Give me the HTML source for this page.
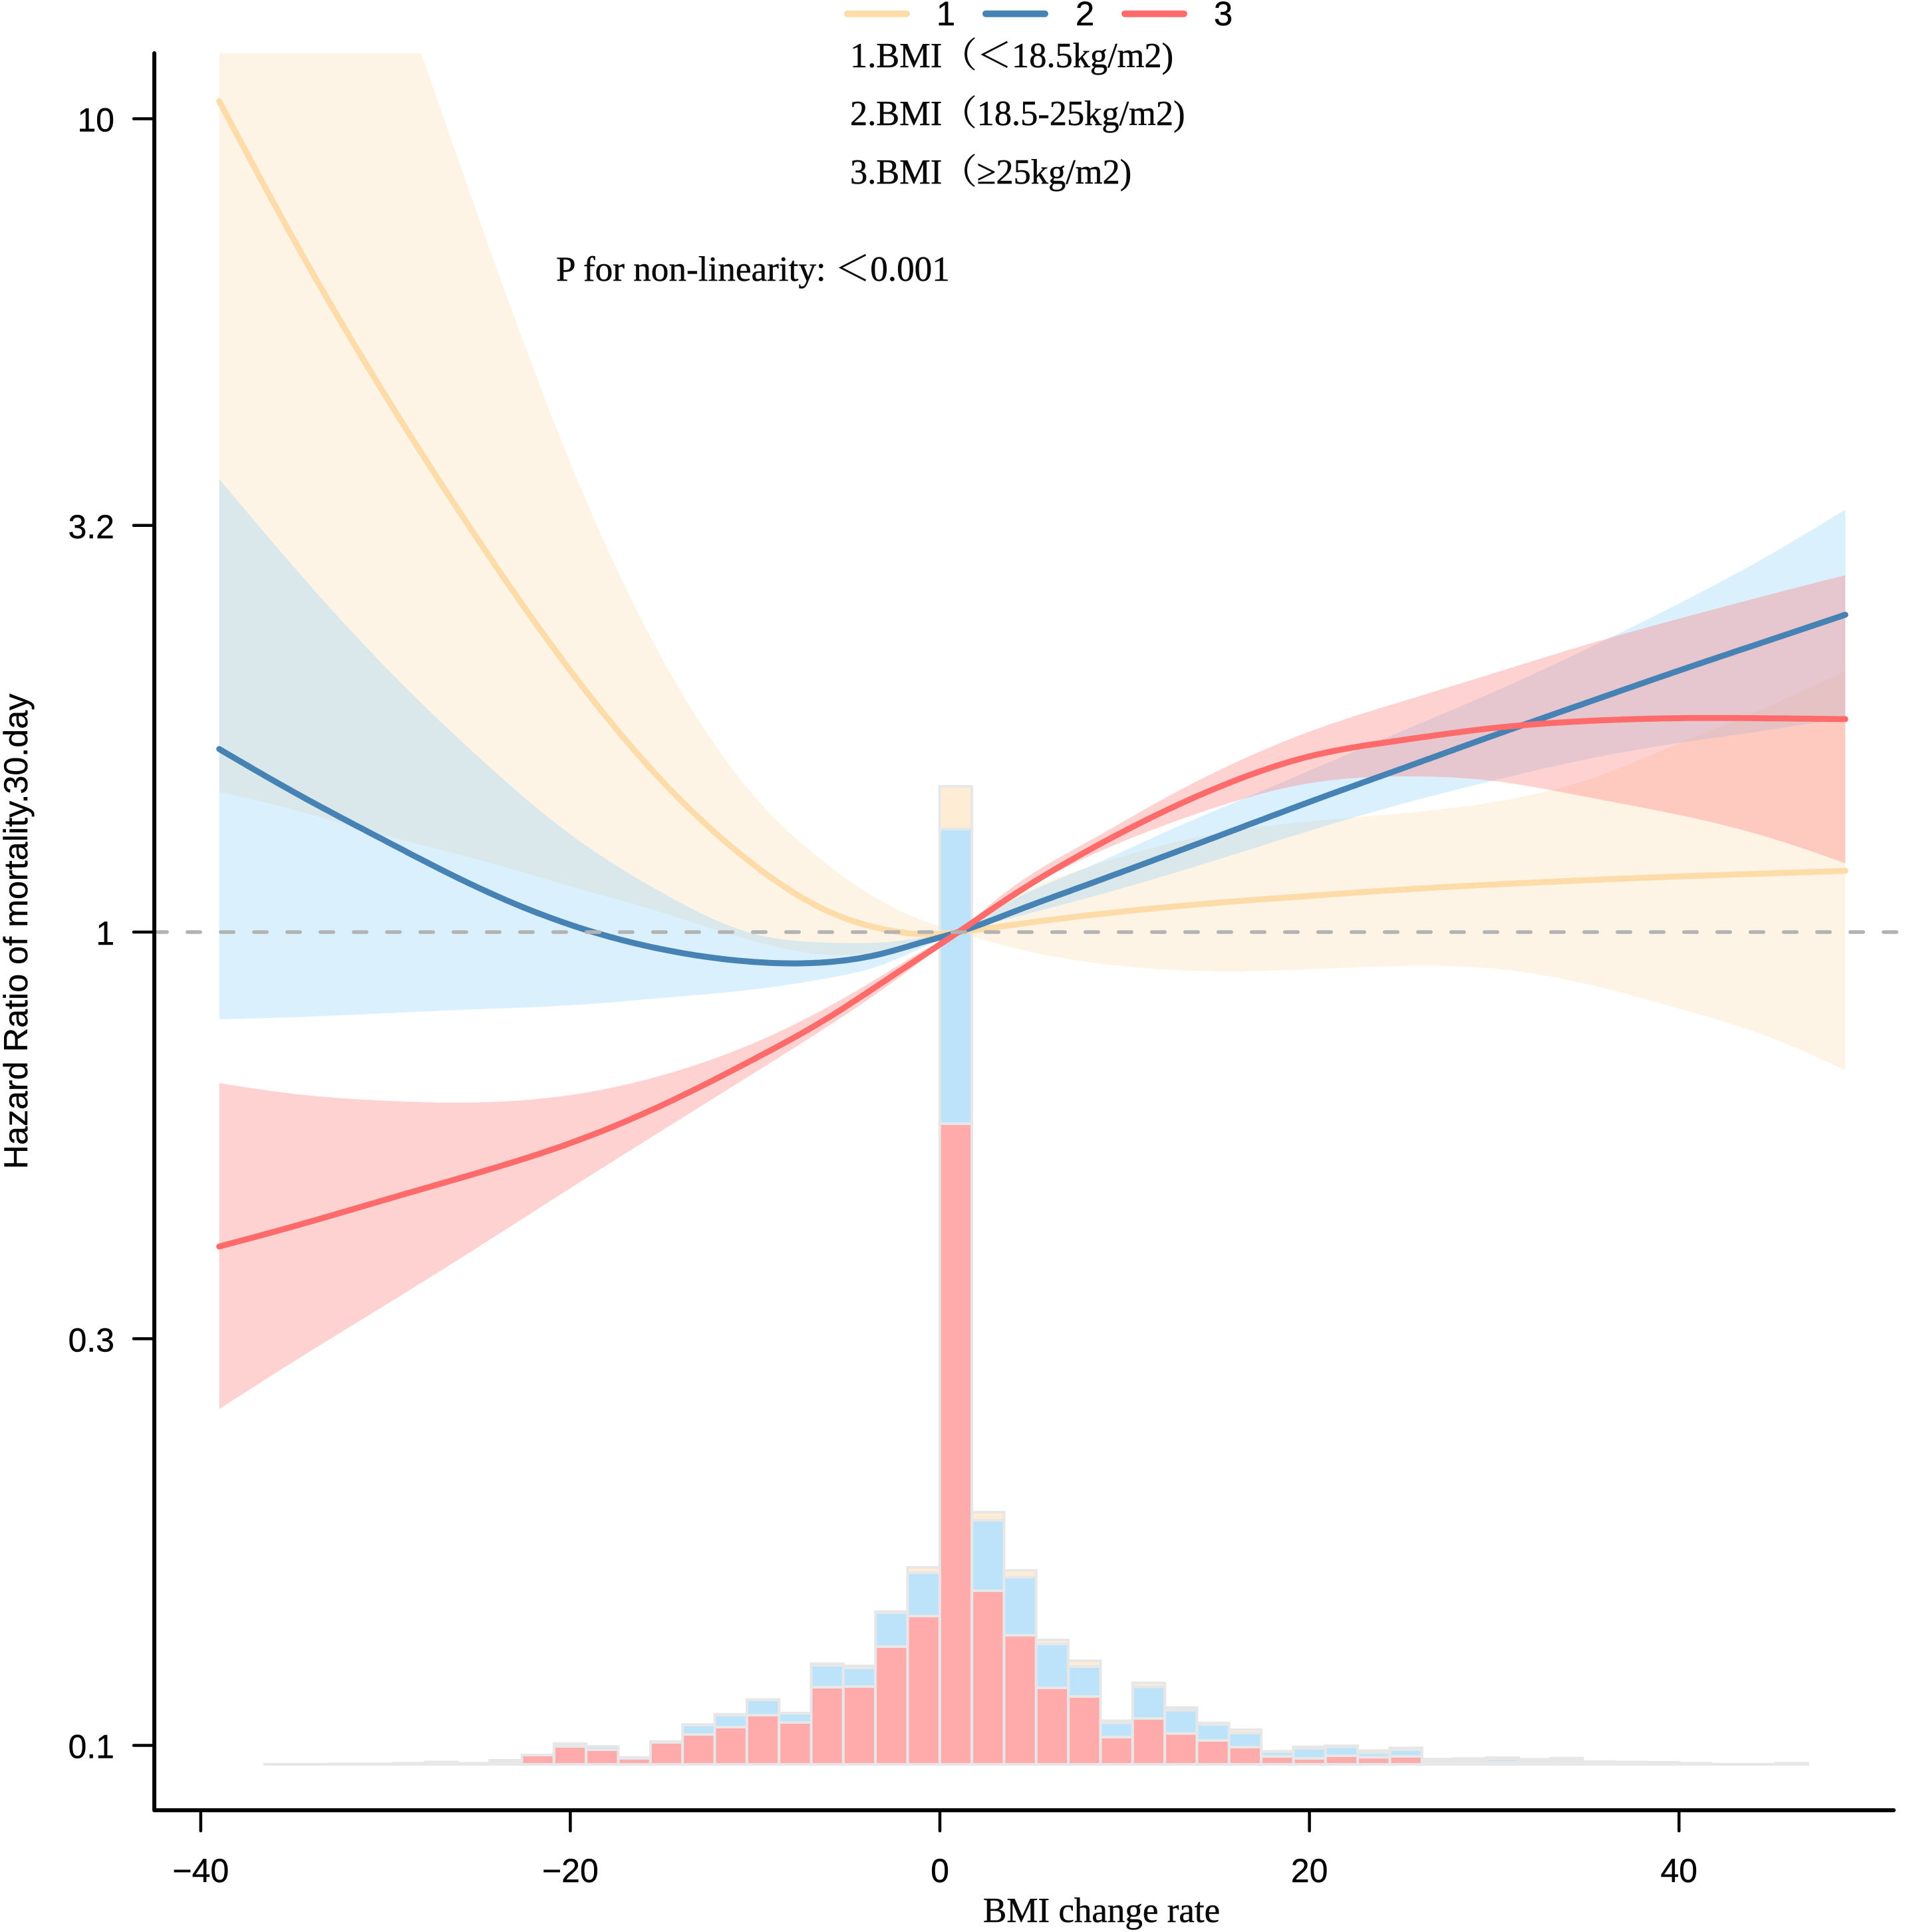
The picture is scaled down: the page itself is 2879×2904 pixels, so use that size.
<!DOCTYPE html>
<html lang="en">
<head>
<meta charset="utf-8">
<title>Hazard ratio of 30-day mortality by BMI change rate</title>
<style>
  html,body{margin:0;padding:0;background:#fff;}
  svg{display:block;}
  .sans{font-family:"Liberation Sans",Arial,sans-serif;fill:#000;stroke:#000;stroke-width:.4;}
  .serif{font-family:"Liberation Serif","Noto Serif CJK SC",serif;fill:#0a0a0a;stroke:#0a0a0a;stroke-width:.5;}
</style>
</head>
<body>
<svg id="chart" xmlns="http://www.w3.org/2000/svg" width="2879" height="2904" viewBox="0 0 2879 2904">
  <defs>
    <clipPath id="panel-clip"><rect x="300" y="80" width="2560" height="2640"></rect></clipPath>
  </defs>
  <rect x="0" y="0" width="2879" height="2904" fill="#ffffff"></rect>
  <g id="ribbons" clip-path="url(#panel-clip)"></g>
  <g id="bars"></g>
  <g id="lines"></g>
  <line id="refline" stroke="#b3b3b3" stroke-width="5.5" stroke-linecap="round" stroke-dasharray="19.5 30.5"></line>
  <g id="axes"></g>

  <text class="sans" font-size="50.3" text-anchor="middle" transform="translate(41 1400) rotate(-90)">Hazard Ratio of mortality.30.day</text>
  <text class="serif" font-size="53" x="1478" y="2889">BMI change rate</text>

  <g>
    <line x1="1274" y1="20.7" x2="1363" y2="20.7" stroke="#FDDCA9" stroke-width="10" stroke-linecap="round"></line>
    <text class="sans" font-size="51" x="1422" y="38" text-anchor="middle">1</text>
    <line x1="1482" y1="20.7" x2="1571" y2="20.7" stroke="#4682B4" stroke-width="10" stroke-linecap="round"></line>
    <text class="sans" font-size="51" x="1631" y="38" text-anchor="middle">2</text>
    <line x1="1691" y1="20.7" x2="1780" y2="20.7" stroke="#FF6B6B" stroke-width="10" stroke-linecap="round"></line>
    <text class="sans" font-size="51" x="1839" y="38" text-anchor="middle">3</text>
  </g>

  <text class="serif" font-size="52.4" x="1278" y="101">1.BMI（＜18.5kg/m2)</text>
  <text class="serif" font-size="52.4" x="1278" y="188">2.BMI（18.5-25kg/m2)</text>
  <text class="serif" font-size="52.4" x="1278" y="276">3.BMI（≥25kg/m2)</text>
  <text class="serif" font-size="53.2" x="836" y="422">P for non-linearity: ＜0.001</text>
</svg>

<script>
// ---- Data ----
const xValues = [-39,-35,-30,-25,-20,-15,-10,-6,-3,-1,1,4,8,12,16,20,25,30,35,40,45,49];

// log10(hazard ratio) per group
const line1 = [1.0217,0.8528,0.6593,0.4826,0.3215,0.1850,0.0815,0.0250,0.0033,-0.0025,0,0.0090,0.0205,0.0300,0.0378,0.0445,0.0522,0.0585,0.0638,0.0684,0.0722,0.0753];
const upper1 = [1.8195,1.5435,1.2085,0.8810,0.5770,0.3350,0.1660,0.0815,0.0360,0.0150,0,0.0434,0.0795,0.1065,0.1250,0.1360,0.1460,0.1600,0.1870,0.2320,0.2790,0.3215];
const lower1 = [0.1726,0.1505,0.1186,0.0892,0.0564,0.0237,-0.0115,-0.0280,-0.0225,-0.0110,0,-0.0196,-0.0368,-0.0458,-0.0483,-0.0458,-0.0417,-0.0450,-0.0638,-0.0941,-0.1301,-0.1701];

const line2 = [0.2250,0.1726,0.1121,0.0548,0.0090,-0.0213,-0.0368,-0.0368,-0.0258,-0.0128,0,0.0250,0.0585,0.0920,0.1260,0.1600,0.2010,0.2420,0.2820,0.3215,0.3597,0.3902];
const upper2 = [0.5571,0.4499,0.3256,0.2160,0.1202,0.0480,-0.0025,-0.0130,-0.0125,-0.0070,0,0.0401,0.0800,0.1210,0.1600,0.1985,0.2470,0.2955,0.3480,0.4040,0.4650,0.5194];
const lower2 = [-0.1072,-0.1047,-0.0998,-0.0949,-0.0900,-0.0810,-0.0703,-0.0564,-0.0393,-0.0196,0,0.0180,0.0420,0.0680,0.0960,0.1245,0.1575,0.1865,0.2125,0.2325,0.2490,0.2634];

const line3 = [-0.3866,-0.3620,-0.3290,-0.2960,-0.2595,-0.2125,-0.1555,-0.1047,-0.0603,-0.0303,0,0.0460,0.1000,0.1470,0.1865,0.2160,0.2360,0.2510,0.2595,0.2630,0.2628,0.2618];
const upper3 = [-0.1857,-0.1988,-0.2074,-0.2094,-0.2004,-0.1759,-0.1358,-0.0913,-0.0515,-0.0241,0,0.0565,0.1110,0.1625,0.2085,0.2465,0.2835,0.3185,0.3534,0.3853,0.4155,0.4389];
const lower3 = [-0.5865,-0.5285,-0.4585,-0.3875,-0.3150,-0.2435,-0.1725,-0.1150,-0.0690,-0.0355,0,0.0440,0.0925,0.1300,0.1610,0.1830,0.1914,0.1857,0.1661,0.1440,0.1153,0.0846];

// Stacked histogram bin counts (relative units)
const histRed = [0.3,0.3,0.7,0.7,1.6,3.4,1.6,3,14,27,22,9,33,45,56,74,63,116,117,177,223,963,261,194,115,102,41,69,46.5,36,26,12,9,13,10.6,12,2,3,3,2,3,1.5,1.4,1,0.8,0.3,0.3,0.8];
const histBlue = [0,0,0,0,0,0,0,3,0,4,5,1.3,1.4,14,18,23,14,33,28,51,65,443,106,87.5,66,45,21.5,47.6,35,24,21,7,15,13.5,7,10,4,3,5,4,3,1.5,1,1,0.4,0,0,0.4];
const histYellow = [0,0,0,0,0,0,0,0,0,0,0,0,0,1,1.3,0.5,0,2,3,1.5,8,64,12,10,6,8.6,3,5.8,4,2.2,5,0.6,2.3,1.4,3.1,2.7,1.9,2.8,2,1.5,3.3,0.9,1,1,0.4,0,0,0.4];

const xTickValues = [-40,-20,0,20,40];
const xTickLabels = ["\u221240","\u221220","0","20","40"];
const yTickValues = [1,0.5,0,-0.5,-1];
const yTickLabels = ["10","3.2","1","0.3","0.1"];

const histBinStart = -36.54;
const histBinWidth = 1.7397;
const pinchX = 1;

// ---- Axis functions ----
const SVGNS = "http://www.w3.org/2000/svg";
function xScale(v){ return 1413 + 27.78 * v; }
function yScale(v){ return 1401 - 1222.5 * v; }
function histY(c){ return 2652 - c; }

// Natural cubic spline second derivatives
function splineD2(xs, ys){
  const n = xs.length;
  const d2 = new Array(n).fill(0);
  const u = new Array(n).fill(0);
  for (let i = 1; i < n - 1; i++) {
    const sig = (xs[i] - xs[i - 1]) / (xs[i + 1] - xs[i - 1]);
    const p = sig * d2[i - 1] + 2;
    d2[i] = (sig - 1) / p;
    const d = (ys[i + 1] - ys[i]) / (xs[i + 1] - xs[i]) - (ys[i] - ys[i - 1]) / (xs[i] - xs[i - 1]);
    u[i] = (6 * d / (xs[i + 1] - xs[i - 1]) - sig * u[i - 1]) / p;
  }
  for (let k = n - 2; k >= 0; k--) d2[k] = d2[k] * d2[k + 1] + u[k];
  return d2;
}
function splinePoints(xs, ys){
  const d2 = splineD2(xs, ys);
  const out = [];
  for (let i = 0; i < xs.length - 1; i++) {
    const h = xs[i + 1] - xs[i];
    const steps = Math.max(4, Math.ceil(h * 4));
    for (let s = 0; s < steps; s++) {
      const b = s / steps, a = 1 - b;
      const v = a * ys[i] + b * ys[i + 1] + ((a * a * a - a) * d2[i] + (b * b * b - b) * d2[i + 1]) * h * h / 6;
      out.push(xScale(xs[i] + b * h).toFixed(1) + " " + yScale(v).toFixed(1));
    }
  }
  out.push(xScale(xs[xs.length - 1]).toFixed(1) + " " + yScale(ys[ys.length - 1]).toFixed(1));
  return out;
}
// Ribbons pinch to a point at the reference value, so each side is fitted separately
function ribbonEdge(ys){
  const p = xValues.indexOf(pinchX);
  const left = splinePoints(xValues.slice(0, p + 1), ys.slice(0, p + 1));
  const right = splinePoints(xValues.slice(p), ys.slice(p));
  return left.concat(right.slice(1));
}

// ---- Ribbons ----
const ribbonGroup = document.getElementById("ribbons");
function drawRibbon(up, low, color, name){
  const el = document.createElementNS(SVGNS, "path");
  
  
  const a = ribbonEdge(up), b = ribbonEdge(low).reverse();
  el.setAttribute("d", "M" + a.join("L") + "L" + b.join("L") + "Z");
  el.setAttribute("fill", color);
  el.setAttribute("fill-opacity", "0.3");
  ribbonGroup.appendChild(el);
}
drawRibbon(upper1, lower1, "#FDDCA9", "ribbon-group-1");
drawRibbon(upper2, lower2, "#87CEFA", "ribbon-group-2");
drawRibbon(upper3, lower3, "#FF6B6B", "ribbon-group-3");

// ---- Histogram ----
const barGroup = document.getElementById("bars");
function drawBar(k, from, to, color, name){
  if (to <= from) return;
  const el = document.createElementNS(SVGNS, "rect");
  
  
  const x0 = xScale(histBinStart + k * histBinWidth);
  const x1 = xScale(histBinStart + (k + 1) * histBinWidth);
  el.setAttribute("x", x0.toFixed(2));
  el.setAttribute("width", (x1 - x0).toFixed(2));
  el.setAttribute("y", histY(to).toFixed(2));
  el.setAttribute("height", (histY(from) - histY(to)).toFixed(2));
  el.setAttribute("fill", color);
  el.setAttribute("stroke", "#e7e7e7");
  el.setAttribute("stroke-width", "4");
  barGroup.appendChild(el);
}
for (let k = 0; k < histRed.length; k++) {
  const r = histRed[k], b = r + histBlue[k], y = b + histYellow[k];
  drawBar(k, b, y, "#FEEDD4", "bar-group-1");
  drawBar(k, r, b, "#BDE3FB", "bar-group-2");
  drawBar(k, 0, r, "#FFABAB", "bar-group-3");
}

// ---- Curves ----
const lineGroup = document.getElementById("lines");
function drawLine(ys, color, name){
  const el = document.createElementNS(SVGNS, "path");
  
  
  el.setAttribute("d", "M" + splinePoints(xValues, ys).join("L"));
  el.setAttribute("fill", "none");
  el.setAttribute("stroke", color);
  el.setAttribute("stroke-width", "9");
  el.setAttribute("stroke-linecap", "round");
  el.setAttribute("stroke-linejoin", "round");
  lineGroup.appendChild(el);
}
drawLine(line1, "#FDDCA9", "curve-group-1");
drawLine(line2, "#4682B4", "curve-group-2");
drawLine(line3, "#FF6B6B", "curve-group-3");

// ---- Reference line ----
const ref = document.getElementById("refline");
ref.setAttribute("x1", "231.7");
ref.setAttribute("x2", "2854");
ref.setAttribute("y1", yScale(0));
ref.setAttribute("y2", yScale(0));

// ---- Axes ----
const axisGroup = document.getElementById("axes");
function axisLine(x1, y1, x2, y2, w, name){
  const el = document.createElementNS(SVGNS, "line");
  
  
  el.setAttribute("x1", x1);
  el.setAttribute("y1", y1);
  el.setAttribute("x2", x2);
  el.setAttribute("y2", y2);
  el.setAttribute("stroke", "#000");
  el.setAttribute("stroke-width", w);
  el.setAttribute("stroke-linecap", "round");
  axisGroup.appendChild(el);
}
function axisText(x, y, anchor, str, name){
  const el = document.createElementNS(SVGNS, "text");
  
  
  el.setAttribute("class", "sans");
  el.setAttribute("x", x);
  el.setAttribute("y", y);
  el.setAttribute("font-size", "50");
  el.setAttribute("text-anchor", anchor);
  el.textContent = str;
  axisGroup.appendChild(el);
}
axisLine(232, 2721, 232, 80, 6, "y-axis-line");
axisLine(232, 2721, 2847, 2721, 6, "x-axis-line");
xTickValues.forEach(function (v, i) {
  axisLine(xScale(v), 2721, xScale(v), 2752, 4.5, "x-axis-tick");
  axisText(xScale(v), 2829, "middle", xTickLabels[i], "x-axis-tick-label");
});
yTickValues.forEach(function (v, i) {
  axisLine(201, yScale(v), 232, yScale(v), 4.5, "y-axis-tick");
  axisText(172, yScale(v) + 19, "end", yTickLabels[i], "y-axis-tick-label");
});
</script>
</body>
</html>
